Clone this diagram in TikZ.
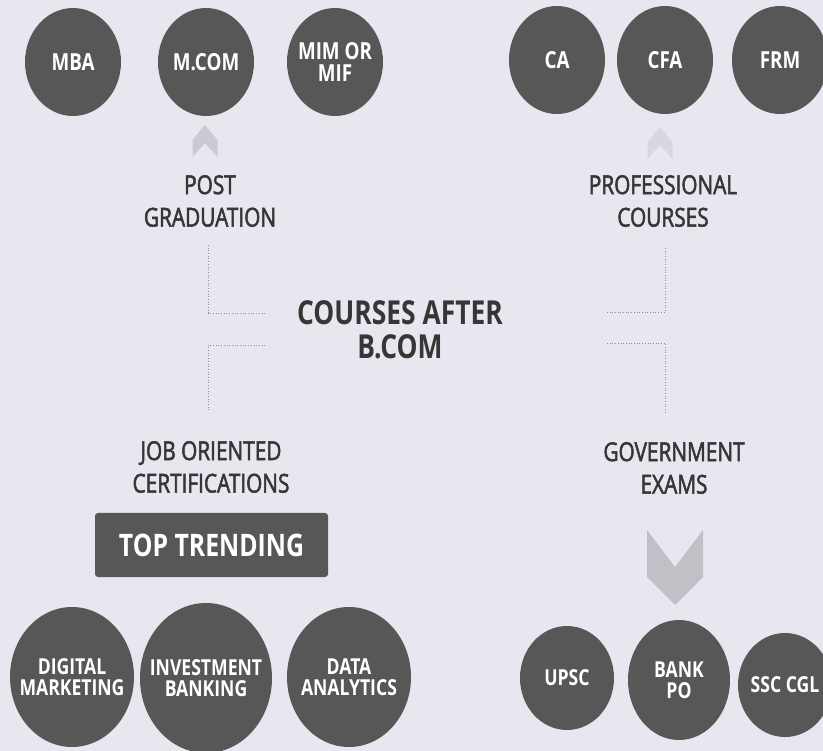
\documentclass[tikz,border=0pt]{standalone}
\usepackage{fontspec}
\setmainfont[FakeStretch=0.8]{Open Sans}
\newfontfamily\catfont[FakeStretch=0.8, FakeBold=2]{Open Sans}
\usetikzlibrary{shapes.geometric}
\definecolor{paper}{HTML}{E8E6EE}
\definecolor{discfill}{HTML}{575757}
\definecolor{ink}{HTML}{363636}
\definecolor{chevdark}{HTML}{C0C0C7}
\definecolor{chevpale}{HTML}{CACAD2}
\definecolor{chevfaint}{HTML}{D8D7DF}
\definecolor{dotcol}{HTML}{8C8C92}
\begin{document}
\begin{tikzpicture}[x=1pt,y=-1pt,
  disc/.style={ellipse, fill=discfill, inner sep=0pt},
  disctext/.style={text=white, inner sep=0pt, align=center,
    font=\fontsize{22}{21}\selectfont\bfseries},
  toptext/.style={disctext, font=\fontsize{23.5}{22}\selectfont\bfseries},
  topdisc/.style={disc, minimum width=96, minimum height=108},
  bigdisc/.style={disc, minimum width=124, minimum height=140},
  lowdisc/.style={disc, minimum width=94, minimum height=104},
  cat/.style={text=ink, align=center, inner sep=0pt,
    font=\catfont\fontsize{26}{32.5}\selectfont},
  headline/.style={text=ink, align=center, inner sep=0pt,
    font=\fontsize{33}{34}\selectfont\bfseries},
  badge/.style={fill=discfill, text=white, rounded corners=3pt,
    minimum width=233, minimum height=64, inner sep=0pt,
    font=\fontsize{31}{31}\selectfont\bfseries},
  dotline/.style={dotted, dotcol, line width=0.7pt}
]
% page
\fill[paper] (0,0) rectangle (823,751);
\useasboundingbox (0,0) rectangle (823,751);

% centre title
\node[headline] (title) at (400,330) {COURSES AFTER\\B.COM};

% four course families
\node[cat] (pg)   at (210,201) {POST\\GRADUATION};
\node[cat] (prof) at (663,201) {PROFESSIONAL\\COURSES};
\node[cat] (job)  at (211,467) {JOB ORIENTED\\CERTIFICATIONS};
\node[cat] (gov)  at (674,468) {GOVERNMENT\\EXAMS};

% trending badge
\node[badge] (trend) at (211.5,545) {TOP TRENDING};

% post graduation options
\node[topdisc] (mba)  at (73,62)  {};
\node[topdisc] (mcom) at (206,62) {};
\node[topdisc] (mim)  at (335,62) {};
\node[toptext] (mbaT)  at (mba)  {MBA};
\node[toptext] (mcomT) at (mcom) {M.COM};
\node[toptext] (mimT)  at (mim)  {MIM OR\\MIF};

% professional courses
\node[topdisc] (ca)  at (557,60) {};
\node[topdisc] (cfa) at (665,60) {};
\node[topdisc] (frm) at (780,60) {};
\node[toptext] (caT)  at (ca)  {CA};
\node[toptext] (cfaT) at (cfa) {CFA};
\node[toptext] (frmT) at (frm) {FRM};

% job oriented certifications
\node[bigdisc] (dm) at (72,677) {};
\node[bigdisc, minimum width=132, minimum height=150] (ib) at (206,678) {};
\node[bigdisc] (da) at (349,677) {};
\node[disctext] (dmT) at (dm) {DIGITAL\\MARKETING};
\node[disctext] (ibT) at (ib) {INVESTMENT\\BANKING};
\node[disctext] (daT) at (da) {DATA\\ANALYTICS};

% government exams
\node[lowdisc] (upsc) at (567,678) {};
\node[disc, minimum width=102, minimum height=120] (bank) at (679,680) {};
\node[lowdisc] (ssc)  at (785,685) {};
\node[disctext] (upscT) at (upsc) {UPSC};
\node[disctext] (bankT) at (bank) {BANK\\PO};
\node[disctext] (sscT)  at (ssc)  {SSC CGL};

% dotted elbow links between the title and each family
\coordinate (tUL) at (265,313);
\coordinate (tLL) at (265,345);
\coordinate (tUR) at (607,312);
\coordinate (tLR) at (607,343);
\coordinate (pgEnd)   at (208,245);
\coordinate (profEnd) at (665,248);
\coordinate (jobEnd)  at (208,410);
\coordinate (govEnd)  at (665,412);
\draw[dotline] (pgEnd) |- (tUL);
\draw[dotline] (profEnd) |- (tUR);
\draw[dotline] (tLL) -| (jobEnd);
\draw[dotline] (tLR) -| (govEnd);

% chevrons pointing to the option circles
\fill[chevpale, shift={(205,125)}]
  (0,0) -- (12.5,15) -- (12.5,32) -- (0,18) -- (-12.5,32) -- (-12.5,15) -- cycle;
\fill[chevfaint, shift={(660,127)}]
  (0,0) -- (12.5,15) -- (12.5,32) -- (0,18) -- (-12.5,32) -- (-12.5,15) -- cycle;
\fill[chevdark, shift={(675,530)}]
  (-28,0) -- (0,37) -- (28,0) -- (28,47) -- (0,75) -- (-28,47) -- cycle;
\end{tikzpicture}
\end{document}
